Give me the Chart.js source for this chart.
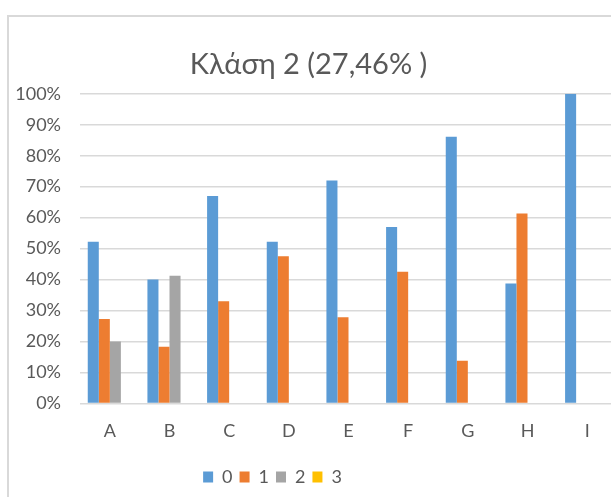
<!DOCTYPE html>
<html>
<head>
<meta charset="utf-8">
<script src="https://cdn.jsdelivr.net/npm/chart.js@4/dist/chart.umd.min.js"></script>
<style>
  html, body { margin: 0; padding: 0; background: #fff; overflow: hidden; }
  #frame { position: absolute; left: 7px; top: 15px; width: 700px; height: 600px; border: 2px solid #d9d9d9; }
  #wrap { position: absolute; left: 0; top: 0; width: 620px; height: 497px; }
</style>
</head>
<body>
<div id="frame"></div>
<div id="wrap"><canvas id="myChart"></canvas></div>
<script>
const categories = ['A', 'B', 'C', 'D', 'E', 'F', 'G', 'H', 'I'];
const seriesNames = ['0', '1', '2', '3'];
const values0 = [52.2, 40.0, 67.0, 52.2, 72.0, 57.0, 86.1, 38.7, 100];
const values1 = [27.3, 18.3, 33.0, 47.5, 27.8, 42.5, 13.8, 61.3, 0];
const values2 = [20.0, 41.2, 0, 0, 0, 0, 0, 0, 0];
const values3 = [0, 0, 0, 0, 0, 0, 0, 0, 0];
const yTicks = [0, 10, 20, 30, 40, 50, 60, 70, 80, 90, 100];

const colors = ['#5b9bd5', '#ed7d31', '#a5a5a5', '#ffc000'];
const textColor = '#595959';
const fontFamily = 'Lato, "Open Sans", "Noto Sans", sans-serif';

// moves the legend a bit, the reference legend is not centered on the canvas
const legendShift = {
  id: 'legendShift',
  afterLayout(chart) {
    const lg = chart.legend;
    const dx = -36, dy = 2;
    lg.left += dx; lg.right += dx;
    lg.top += dy; lg.bottom += dy;
  }
};

const data = {
  labels: categories,
  datasets: [values0, values1, values2, values3].map((vals, i) => ({
    label: seriesNames[i],
    data: vals,
    backgroundColor: colors[i],
    borderWidth: 0,
    categoryPercentage: 0.74,
    barPercentage: 1.0
  }))
};

const config = {
  type: 'bar',
  data: data,
  plugins: [legendShift],
  options: {
    responsive: true,
    maintainAspectRatio: false,
    animation: false,
    layout: { padding: { left: 0, right: 3, top: 0, bottom: 3 } },
    scales: {
      x: {
        grid: { display: false, drawTicks: false },
        border: { display: false },
        ticks: { color: textColor, font: { family: fontFamily, size: 18 }, padding: 17 }
      },
      y: {
        min: 0,
        max: 100,
        afterBuildTicks: (scale) => { scale.ticks = yTicks.map(v => ({ value: v })); },
        afterFit: (scale) => { scale.width = 80; },
        grid: { color: '#d9d9d9', lineWidth: 1.5, drawTicks: false },
        border: { display: false },
        ticks: {
          color: textColor,
          font: { family: fontFamily, size: 18 },
          padding: 19,
          callback: (v) => v + '%'
        }
      }
    },
    plugins: {
      title: {
        display: true,
        text: 'Κλάση 2 (27,46% )',
        color: textColor,
        font: { family: fontFamily, size: 29, weight: 'normal' },
        padding: { top: 47, bottom: 12 }
      },
      legend: {
        display: true,
        position: 'bottom',
        labels: {
          color: textColor,
          font: { family: fontFamily, size: 18 },
          boxWidth: 10,
          boxHeight: 11,
          padding: 7
        }
      },
      tooltip: { enabled: false }
    }
  }
};

const myChart = new Chart(document.getElementById('myChart'), config);
</script>
</body>
</html>
